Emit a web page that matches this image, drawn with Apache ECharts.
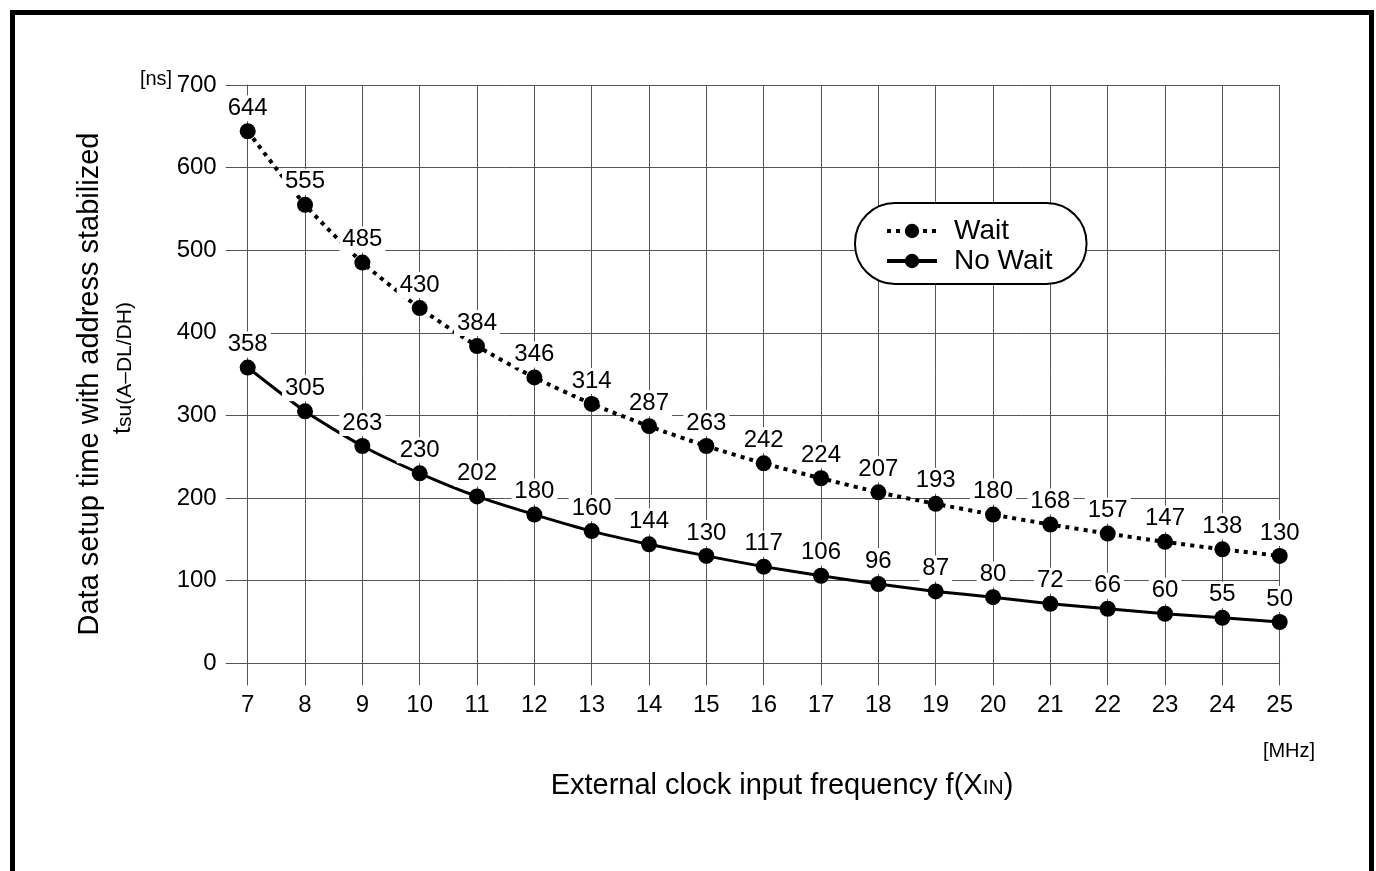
<!DOCTYPE html>
<html>
<head>
<meta charset="utf-8">
<script src="https://cdn.jsdelivr.net/npm/echarts@6/dist/echarts.min.js"></script>
<style>html,body{margin:0;padding:0;background:#fff}#c{width:1376px;height:871px}</style>
</head>
<body>
<div id="c"></div>
<script>
var categories = ['7','8','9','10','11','12','13','14','15','16','17','18','19','20','21','22','23','24','25'];
var waitValues = [644,555,485,430,384,346,314,287,263,242,224,207,193,180,168,157,147,138,130];
var noWaitValues = [358,305,263,230,202,180,160,144,130,117,106,96,87,80,72,66,60,55,50];
var yMin = 0, yMax = 700, yStep = 100;

var FONT = '"Liberation Sans", Arial, Helvetica, sans-serif';
var GRID = '#555';

var chart = echarts.init(document.getElementById('c'), null, {renderer: 'canvas'});
var labelCfg = {
  show: true, position: 'top', distance: 2,
  fontFamily: FONT, fontSize: 24, color: '#000',
  backgroundColor: '#fff', padding: [1, 3]
};
chart.setOption({
  animation: false,
  backgroundColor: '#fff',
  textStyle: {fontFamily: FONT},
  grid: {left: 247.7, right: 96.3, top: 85, bottom: 207.7, containLabel: false},
  legend: {
    orient: 'vertical', left: 855, top: 203,
    data: ['Wait', 'No Wait'],
    itemWidth: 50, itemHeight: 18, itemGap: 0,
    padding: [13, 34, 8, 30],
    borderColor: '#000', borderWidth: 2, borderRadius: 40,
    backgroundColor: '#fff',
    lineStyle: {width: 4},
    textStyle: {fontFamily: FONT, fontSize: 28, lineHeight: 30, color: '#000', padding: [0, 0, 0, 12]}
  },
  xAxis: {
    type: 'category', data: categories, boundaryGap: false,
    axisLine: {show: true, lineStyle: {color: GRID, width: 1}},
    axisTick: {show: true, length: 22, lineStyle: {color: GRID, width: 1}},
    axisLabel: {margin: 30, fontFamily: FONT, fontSize: 24, color: '#000'},
    splitLine: {show: true, lineStyle: {color: GRID, width: 1}}
  },
  yAxis: {
    type: 'value', min: yMin, max: yMax, interval: yStep,
    axisLine: {show: true, lineStyle: {color: GRID, width: 1}},
    axisTick: {show: true, length: 22, lineStyle: {color: GRID, width: 1}},
    axisLabel: {margin: 31, fontFamily: FONT, fontSize: 24, color: '#000'},
    splitLine: {show: true, lineStyle: {color: GRID, width: 1}}
  },
  series: [
    {
      name: 'Wait', type: 'line', data: waitValues,
      symbol: 'circle', symbolSize: 16, smooth: 0.2,
      lineStyle: {color: '#000', width: 4, type: [4, 5]},
      itemStyle: {color: '#000'},
      label: labelCfg, z: 3
    },
    {
      name: 'No Wait', type: 'line', data: noWaitValues,
      symbol: 'circle', symbolSize: 16, smooth: 0.2,
      lineStyle: {color: '#000', width: 3, type: 'solid'},
      itemStyle: {color: '#000'},
      label: labelCfg, z: 3
    }
  ],
  graphic: [
    {type: 'rect', shape: {x: 12.5, y: 12.5, width: 1359, height: 900},
     style: {fill: 'none', stroke: '#000', lineWidth: 5}, z: 100},
    {type: 'text', x: 156, y: 79, style: {text: '[ns]', font: '20px ' + FONT, fill: '#000', textAlign: 'center', textVerticalAlign: 'middle'}},
    {type: 'text', x: 1289, y: 751, style: {text: '[MHz]', font: '20px ' + FONT, fill: '#000', textAlign: 'center', textVerticalAlign: 'middle'}},
    {type: 'text', x: 782, y: 786, style: {
      text: '{m|External clock input frequency f(X}{s|IN}{m|)}',
      textAlign: 'center', textVerticalAlign: 'middle',
      rich: {m: {fontFamily: FONT, fontSize: 29, color: '#000'},
             s: {fontFamily: FONT, fontSize: 21, color: '#000', verticalAlign: 'bottom', padding: [0,0,2,0]}}
    }},
    {type: 'text', x: 90, y: 384, rotation: Math.PI / 2, style: {
      text: 'Data setup time with address stabilized',
      font: '29px ' + FONT, fill: '#000', textAlign: 'center', textVerticalAlign: 'middle'}},
    {type: 'text', x: 123, y: 368, rotation: Math.PI / 2, style: {
      text: '{t|t}{s|su(A\u2013DL/DH)}',
      textAlign: 'center', textVerticalAlign: 'middle',
      rich: {t: {fontFamily: FONT, fontSize: 25, color: '#000'},
             s: {fontFamily: FONT, fontSize: 21, color: '#000', verticalAlign: 'bottom', padding: [5,0,0,0]}}
    }}
  ]
});
</script>
</body>
</html>
